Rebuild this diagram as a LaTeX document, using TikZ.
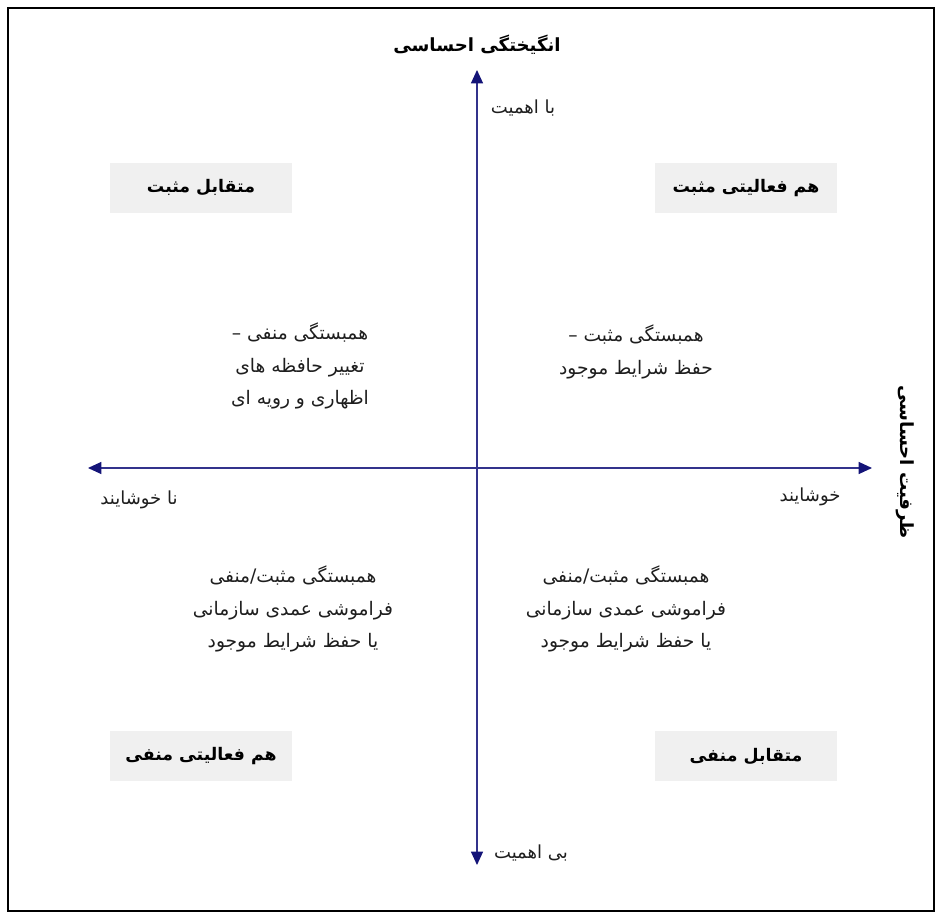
\documentclass[tikz,border=0pt]{standalone}
\usepackage{fontspec}
\usetikzlibrary{arrows.meta}
\TeXXeTstate=1
\newfontfamily\fa[Script=Arabic]{DejaVu Sans}
\definecolor{axisblue}{RGB}{50,50,140}
\definecolor{tipblue}{RGB}{20,20,120}
\definecolor{boxgray}{RGB}{240,240,240}
\definecolor{txt}{RGB}{30,30,30}
\tikzset{
  axis/.style={draw=axisblue, line width=0.9pt, -{Triangle[length=10pt,width=9pt,color=tipblue,fill=tipblue]}},
  quadbox/.style={fill=boxgray, draw=none, minimum width=136.5pt, minimum height=38pt, inner sep=0pt,
                  font=\fa\bfseries\fontsize{13}{15}\selectfont, text=black},
  body/.style={font=\fa\fontsize{14}{24.5}\selectfont, text=txt, align=center, inner sep=0pt},
  axlabel/.style={font=\fa\fontsize{13.5}{15}\selectfont, text=txt, inner sep=0pt},
  title/.style={font=\fa\bfseries\fontsize{13.6}{15}\selectfont, text=black, inner sep=0pt}
}
\begin{document}
\begin{tikzpicture}[x=0.75pt,y=-0.75pt]
\useasboundingbox (0,0) rectangle (942,919);
\draw[black, line width=0.8pt] (8,8) rectangle (934,911);

% axes
\coordinate (origin) at (477,468);
\coordinate (top) at (477,70);
\coordinate (bottom) at (477,865);
\coordinate (left) at (88,468);
\coordinate (right) at (872,468);
\draw[axis] (origin) -- (top);
\draw[axis] (origin) -- (bottom);
\draw[axis] (origin) -- (left);
\draw[axis] (origin) -- (right);

% titles
\node[title] (ttop) at (477,45) {\beginR انگیختگی احساسی\endR};
\node[title, rotate=-90] (tright) at (905,462) {\beginR ظرفیت احساسی\endR};

% axis labels
\node[axlabel] (lhigh) at (523,108) {\beginR با اهمیت\endR};
\node[axlabel] (llow) at (531,853) {\beginR بی اهمیت\endR};
\node[axlabel] (lneg) at (139,500) {\beginR نا خوشایند\endR};
\node[axlabel] (lpos) at (810,497) {\beginR خوشایند\endR};

% quadrant boxes
\node[quadbox] (b1) at (201,188) {\beginR متقابل مثبت\endR};
\node[quadbox] (b2) at (746,188) {\beginR هم فعالیتی مثبت\endR};
\node[quadbox] (b3) at (201,756) {\beginR هم فعالیتی منفی\endR};
\node[quadbox] (b4) at (746,756) {\beginR متقابل منفی\endR};

% quadrant texts
\node[body] (q1) at (300,366) {\beginR همبستگی منفی –\endR\\\beginR تغییر حافظه های\endR\\\beginR اظهاری و رویه ای\endR};
\node[body] (q2) at (636,352) {\beginR همبستگی مثبت –\endR\\\beginR حفظ شرایط موجود\endR};
\node[body] (q3) at (293,609) {\beginR همبستگی مثبت/منفی\endR\\\beginR فراموشی عمدی سازمانی\endR\\\beginR یا حفظ شرایط موجود\endR};
\node[body] (q4) at (626,609) {\beginR همبستگی مثبت/منفی\endR\\\beginR فراموشی عمدی سازمانی\endR\\\beginR یا حفظ شرایط موجود\endR};
\end{tikzpicture}
\end{document}
